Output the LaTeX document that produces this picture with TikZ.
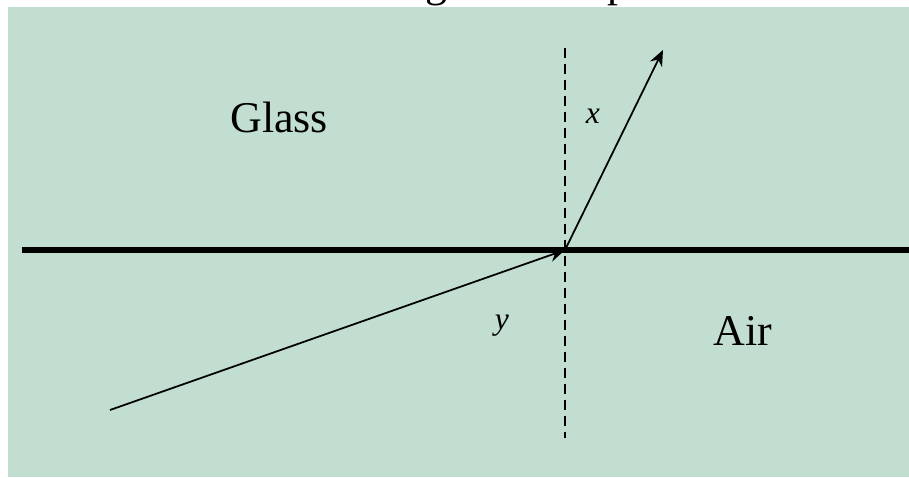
\documentclass[tikz,border=0pt]{standalone}
\usepackage{fontspec}
\setmainfont{Liberation Serif}
\usetikzlibrary{arrows.meta}
\definecolor{glassgreen}{RGB}{194,222,208}
\begin{document}
\begin{tikzpicture}[x=0.02cm,y=-0.02cm,
ray/.style={line width=1pt,-{Stealth[length=9pt,width=7.5pt]}},
normalline/.style={line width=0.9pt,dash pattern=on 5.7pt off 3.4pt},
lbl/.style={font=\fontsize{25}{30}\selectfont,inner sep=0pt},
anglbl/.style={font=\fontsize{18}{22}\selectfont\itshape,inner sep=0pt}]
\useasboundingbox (0,0) rectangle (909,477);
% caption text above the box, only its tails show
\node[lbl,anchor=base] (capg) at (436,-4) {g};
\node[lbl,anchor=base] (capp) at (618,-4) {p};
\fill[glassgreen] (8,7) rectangle (909,477);
\coordinate (O) at (565,250);
\coordinate (sl) at (22,250);
\coordinate (sr) at (909,250);
\coordinate (nt) at (565,48);
\coordinate (nb) at (565,438);
\coordinate (src) at (110,410);
\coordinate (tip) at (663,50);
\draw[line width=3.4pt] (sl) -- (sr);
\draw[normalline] (nt) -- (nb);
\draw[ray] (src) -- (O);
\draw[ray] (O) -- (tip);
\node[lbl,anchor=base west] (glass) at (230,132) {Glass};
\node[lbl,anchor=base west] (air) at (713,345) {Air};
\node[anglbl] (angx) at (593,116) {x};
\node[anglbl] (angy) at (502,326) {y};
\end{tikzpicture}
\end{document}
